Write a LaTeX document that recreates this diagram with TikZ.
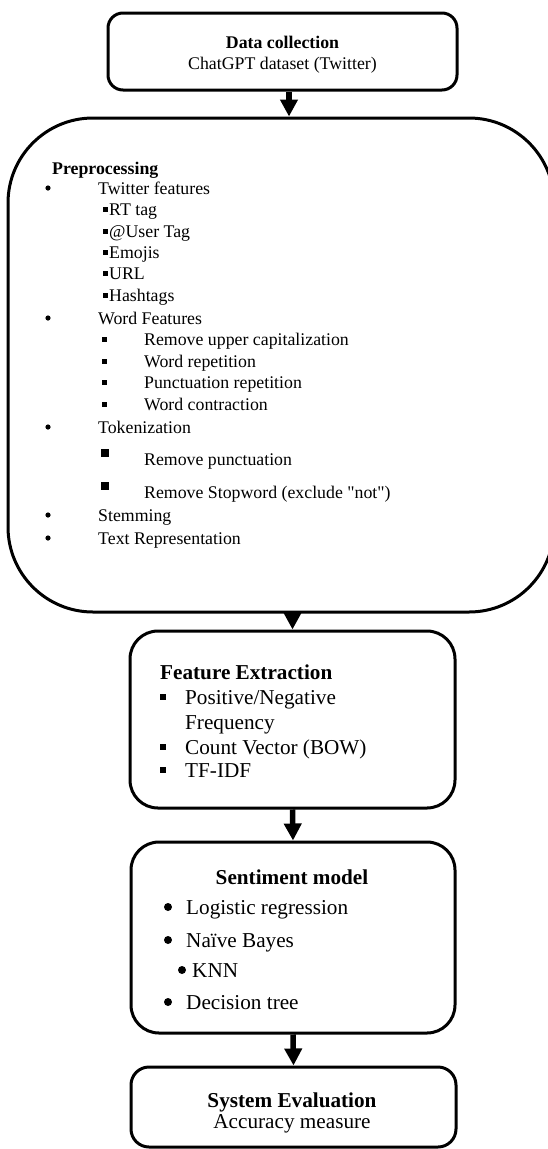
\documentclass[tikz,border=0pt]{standalone}
\usepackage{fontspec}
\setmainfont{Liberation Serif}
\usetikzlibrary{arrows.meta}

\newcommand\straightquote{\XeTeXglyph\XeTeXcharglyph"22\relax}

\tikzset{
  stage/.style={draw, line width=3pt, inner sep=0pt},
  flow/.style={line width=5.5pt, -{Triangle[width=17pt,length=17pt]}},
  small/.style={inner sep=0pt, anchor=base west, font=\fontsize{17.8}{21.4}\selectfont},
  large/.style={inner sep=0pt, anchor=base west, font=\fontsize{21.2}{25}\selectfont},
}

\begin{document}
\begin{tikzpicture}[x=1pt,y=-1pt]
\useasboundingbox (0,0) rectangle (547,1149);

% stages
\node[stage, rounded corners=15pt, minimum width=349pt, minimum height=77pt] (data) at (282.5,51.5) {};
\node[stage, rounded corners=85pt, minimum width=546pt, minimum height=494pt] (prep) at (281,365) {};
\node[stage, rounded corners=28pt, minimum width=325pt, minimum height=177pt] (fe) at (292.5,719.5) {};
\node[stage, rounded corners=28pt, minimum width=324pt, minimum height=191pt] (sm) at (293,937.5) {};
\node[stage, rounded corners=18pt, minimum width=325pt, minimum height=80pt] (eval) at (293.5,1107) {};

\draw[flow] ([xshift=6.5pt]data.south) -- ([xshift=8pt]prep.north);
\draw[flow] (prep.south -| fe.north) -- (fe.north);
\draw[flow] (fe.south) -- (sm.north);
\draw[flow] (sm.south) -- (eval.north);

% data collection
\node[small, anchor=base] (datatitle) at (282.5,48) {\textbf{Data collection}};
\node[small, anchor=base] (datasrc) at (282.5,69) {ChatGPT dataset (Twitter)};

% preprocessing
\node[small] (preptitle) at (52,174) {\textbf{Preprocessing}};
\foreach \y/\t [count=\i] in {194/Twitter features, 324/Word Features, 433/Tokenization,
                              521/Stemming, 544/Text Representation} {
        \fill (48,\y-6) circle (2.6);
        \node[small] (step\i) at (98,\y) {\t};
    }
\foreach \y/\t [count=\i] in {215/RT tag, 237/@User Tag, 258/Emojis, 279/URL, 301/Hashtags} {
        \fill (102.5,\y-8.5) rectangle +(5,5);
        \node[small] (tw\i) at (109,\y) {\t};
    }
\foreach \y/\t [count=\i] in {345/Remove upper capitalization, 367/Word repetition,
                              388/Punctuation repetition, 410/Word contraction} {
        \fill (102,\y-8.5) rectangle +(5,5);
        \node[small] (wf\i) at (144,\y) {\t};
    }
\foreach \y/\t [count=\i] in {465/Remove punctuation,
                              498/Remove Stopword (exclude \straightquote not\straightquote)} {
        \fill (101,\y-16) rectangle +(8,8);
        \node[small] (tok\i) at (144,\y) {\t};
    }

% feature extraction
\node[large] (fetitle) at (160,679) {\textbf{Feature Extraction}};
\foreach \y in {704,754,777} \fill (160,\y-10) rectangle +(6,6);
\node[large] (fe1) at (185,704) {Positive/Negative};
\node[large] (fe2) at (185,729) {Frequency};
\node[large] (fe3) at (185,754) {Count Vector (BOW)};
\node[large] (fe4) at (185,777) {TF-IDF};

% sentiment model
\node[large, anchor=base] (smtitle) at (292,884) {\textbf{Sentiment model}};
\foreach \y/\t [count=\i] in {914/Logistic regression, 947/Naïve Bayes, 1009/Decision tree} {
        \fill (168,\y-7) circle (4);
        \node[large] (sm\i) at (186,\y) {\t};
    }
\fill (182,970) circle (4);
\node[large] (knn) at (192,977) {KNN};

% evaluation
\node[large, anchor=base] (evaltitle) at (292,1107) {\textbf{System Evaluation}};
\node[large, anchor=base] (evalmeasure) at (292,1128) {Accuracy measure};
\end{tikzpicture}
\end{document}
